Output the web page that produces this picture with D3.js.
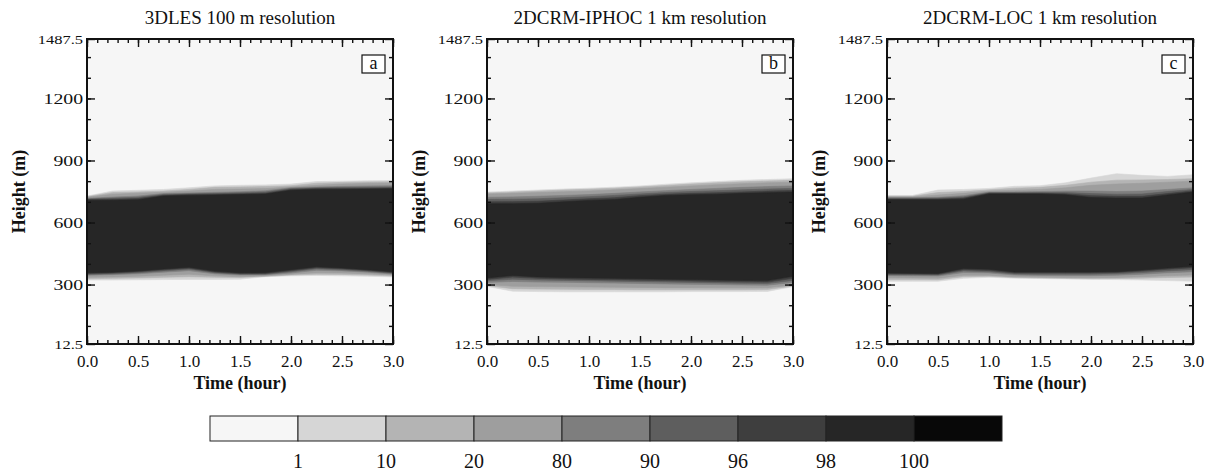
<!DOCTYPE html>
<html>
<head>
<meta charset="utf-8">
<script src="https://cdn.jsdelivr.net/npm/d3@7"></script>
<style>
  body { margin: 0; background: #fff; }
  svg text { font-family: "Liberation Serif", "DejaVu Serif", serif; fill: #111; }
</style>
</head>
<body>
<div id="fig"></div>
<script>
// horas de simulacion
const times = [0, 0.25, 0.5, 0.75, 1.0, 1.25, 1.5, 1.75, 2.0, 2.25, 2.5, 2.75, 3.0]

// niveles de fraccion de nubes (%) y colores de la barra
const levels = [1, 10, 20, 80, 90, 96, 98, 100]
const levelColors = ["#f6f6f6", "#d6d6d6", "#b4b4b4", "#9e9e9e", "#7e7e7e", "#5e5e5e", "#3e3e3e", "#262626", "#080808"]

const yTicks = [12.5, 300, 600, 900, 1200, 1487.5]
const xTicks = [0, 0.5, 1.0, 1.5, 2.0, 2.5, 3.0]

const titles = ["3DLES 100 m resolution", "2DCRM-IPHOC 1 km resolution", "2DCRM-LOC 1 km resolution"]
const letters = ["a", "b", "c"]

// limite superior (m) de cada nivel: 1,10,20,80,90,96,98
const topA = [
  [728, 752, 756, 760, 768, 777, 780, 782, 786, 798, 800, 802, 803],
  [725, 745, 748, 752, 760, 770, 772, 774, 778, 790, 794, 796, 797],
  [722, 737, 742, 746, 752, 760, 762, 764, 772, 780, 786, 789, 790],
  [717, 723, 728, 740, 743, 746, 749, 754, 768, 772, 775, 777, 778],
  [714, 718, 722, 736, 739, 741, 744, 748, 764, 768, 770, 771, 772],
  [711, 713, 716, 732, 735, 737, 739, 742, 760, 764, 765, 766, 767],
  [707, 708, 710, 728, 731, 733, 735, 738, 756, 760, 761, 762, 763]
]
// limite inferior (m) de cada nivel
const botA = [
  [322, 322, 323, 324, 325, 325, 326, 338, 342, 344, 342, 340, 337],
  [328, 330, 332, 335, 338, 335, 334, 340, 346, 350, 349, 346, 342],
  [335, 337, 340, 345, 350, 342, 338, 342, 350, 357, 356, 352, 346],
  [345, 348, 352, 360, 367, 352, 346, 347, 356, 369, 366, 360, 351],
  [349, 352, 357, 366, 374, 357, 350, 350, 362, 376, 371, 364, 355],
  [353, 356, 362, 371, 379, 361, 353, 354, 367, 381, 376, 368, 358],
  [357, 360, 366, 375, 384, 365, 357, 358, 372, 386, 380, 372, 362]
]

const topB = [
  [747, 752, 757, 762, 766, 771, 777, 785, 792, 798, 804, 808, 812],
  [743, 747, 752, 757, 761, 766, 772, 779, 786, 792, 797, 801, 804],
  [738, 741, 745, 749, 753, 758, 764, 771, 777, 783, 788, 792, 795],
  [722, 724, 727, 731, 735, 741, 748, 754, 760, 765, 770, 774, 777],
  [712, 713, 715, 720, 725, 731, 738, 745, 750, 754, 758, 762, 765],
  [700, 701, 703, 709, 715, 720, 730, 737, 741, 744, 748, 752, 755],
  [691, 691, 693, 700, 707, 711, 722, 731, 734, 737, 741, 744, 747]
]
const botB = [
  [291, 268, 266, 265, 265, 265, 265, 265, 266, 266, 266, 267, 290],
  [295, 280, 278, 277, 276, 276, 275, 275, 275, 275, 275, 276, 293],
  [300, 292, 290, 289, 288, 287, 286, 285, 285, 284, 284, 285, 298],
  [310, 315, 312, 311, 309, 307, 305, 303, 301, 300, 298, 297, 310],
  [318, 326, 322, 320, 318, 316, 314, 312, 310, 308, 306, 305, 320],
  [325, 336, 330, 327, 325, 323, 321, 319, 317, 315, 313, 312, 330],
  [332, 344, 337, 334, 332, 330, 328, 326, 324, 322, 320, 319, 340]
]

const topC = [
  [731, 731, 757, 760, 765, 775, 778, 792, 815, 836, 828, 823, 831],
  [727, 727, 745, 750, 758, 766, 770, 780, 795, 805, 806, 808, 812],
  [724, 724, 733, 741, 752, 756, 760, 768, 780, 786, 790, 795, 800],
  [720, 720, 722, 730, 747, 748, 750, 752, 752, 750, 752, 760, 768],
  [717, 717, 718, 724, 744, 744, 745, 745, 740, 737, 738, 750, 760],
  [713, 713, 714, 718, 741, 741, 741, 739, 730, 727, 727, 740, 753],
  [710, 710, 710, 713, 738, 738, 738, 734, 721, 718, 718, 733, 747]
]
const botC = [
  [316, 316, 316, 330, 335, 331, 329, 327, 325, 324, 322, 319, 316],
  [324, 324, 323, 338, 340, 334, 332, 330, 329, 329, 331, 334, 336],
  [333, 332, 331, 345, 345, 338, 336, 334, 333, 334, 338, 343, 346],
  [343, 342, 341, 358, 356, 346, 344, 343, 343, 345, 350, 357, 362],
  [348, 347, 346, 366, 362, 351, 350, 350, 350, 352, 358, 366, 372],
  [352, 351, 350, 372, 368, 356, 356, 356, 356, 358, 365, 374, 381],
  [356, 355, 354, 378, 374, 361, 361, 361, 361, 362, 370, 380, 388]
]

const paneles = [
  { top: topA, bot: botA },
  { top: topB, bot: botB },
  { top: topC, bot: botC }
]

const anchoTotal = 1214
const altoTotal = 471
const panelX = [87, 487, 887]
const panelY = 39
const ancho = 306
const alto = 305

const svg = d3.select("#fig")
  .append("svg")
  .attr("width", anchoTotal)
  .attr("height", altoTotal)

const x = d3.scaleLinear().domain([0, 3]).range([0, ancho])
const y = d3.scaleLinear().domain([12.5, 1487.5]).range([alto, 0])

const minorX = d3.range(0, 3.001, 0.1).map(d => +d.toFixed(1))
const minorY = d3.range(100, 1487, 100)

paneles.forEach((p, k) => {
  const g = svg.append("g")
    .attr("transform", `translate(${panelX[k]}, ${panelY})`)

  g.append("clipPath").attr("id", "clip" + k)
    .append("rect").attr("width", ancho).attr("height", alto)

  g.append("rect")
    .attr("width", ancho).attr("height", alto)
    .attr("fill", levelColors[0])

  const area = d3.area()
    .x((d, i) => x(times[i]))
    .y0(d => y(d[0]))
    .y1(d => y(d[1]))

  const bandas = g.append("g").attr("clip-path", `url(#clip${k})`)
  p.top.forEach((tops, i) => {
    const pares = tops.map((t, j) => [p.bot[i][j], t])
    bandas.append("path")
      .attr("d", area(pares))
      .attr("fill", levelColors[i + 1])
      .attr("stroke", levelColors[i + 1])
      .attr("stroke-width", 0.6)
  })

  // ejes con marcas hacia dentro
  const ejeX = g.append("g").attr("transform", `translate(0, ${alto})`)
    .call(d3.axisBottom(x).tickValues(xTicks).tickSize(-8).tickPadding(11).tickFormat(d3.format(".1f")))
  g.append("g").attr("transform", `translate(0, ${alto})`)
    .call(d3.axisBottom(x).tickValues(minorX).tickSize(-4).tickFormat(""))
  g.append("g").call(d3.axisTop(x).tickValues(xTicks).tickSize(-8).tickFormat(""))
  g.append("g").call(d3.axisTop(x).tickValues(minorX).tickSize(-4).tickFormat(""))

  const ejeY = g.append("g")
    .call(d3.axisLeft(y).tickValues(yTicks).tickSize(-8).tickPadding(3).tickFormat(d => d))
  g.append("g").call(d3.axisLeft(y).tickValues(minorY).tickSize(-4).tickFormat(""))
  g.append("g").attr("transform", `translate(${ancho}, 0)`)
    .call(d3.axisRight(y).tickValues(yTicks).tickSize(-8).tickFormat(""))
  g.append("g").attr("transform", `translate(${ancho}, 0)`)
    .call(d3.axisRight(y).tickValues(minorY).tickSize(-4).tickFormat(""))

  g.selectAll(".domain").remove()
  g.selectAll(".tick line").attr("stroke", "#111").attr("stroke-width", 1.4)
  ejeX.selectAll("text")
    .style("font-size", "17px").style("font-family", "Liberation Serif").style("fill", "#111")
  ejeY.selectAll("text")
    .style("font-size", "15px").style("font-family", "Liberation Serif").style("fill", "#111")
    .attr("transform", "scale(1.32,1)")
  ejeY.selectAll(".tick").filter(d => d === 12.5 || d === 1487.5)
    .select("text").style("font-size", "12.5px")

  g.append("rect")
    .attr("width", ancho).attr("height", alto)
    .attr("fill", "none").attr("stroke", "#111").attr("stroke-width", 2)

  // titulo y rotulos
  g.append("text")
    .attr("x", ancho / 2).attr("y", -15)
    .attr("text-anchor", "middle")
    .style("font-size", "19px")
    .text(titles[k])

  g.append("text")
    .attr("x", ancho / 2).attr("y", alto + 45)
    .attr("text-anchor", "middle")
    .style("font-size", "18px").style("font-weight", "bold")
    .text("Time (hour)")

  g.append("text")
    .attr("transform", `translate(${-62}, ${alto / 2}) rotate(-90)`)
    .attr("text-anchor", "middle")
    .style("font-size", "18px").style("font-weight", "bold")
    .text("Height (m)")

  g.append("rect")
    .attr("x", ancho - 31).attr("y", 16)
    .attr("width", 23).attr("height", 18)
    .attr("fill", "#fff").attr("stroke", "#111").attr("stroke-width", 1.2)
  g.append("text")
    .attr("x", ancho - 19.5).attr("y", 30)
    .attr("text-anchor", "middle")
    .style("font-size", "18px")
    .text(letters[k])
})

// barra de colores
const barX = d3.scaleBand().domain(d3.range(levelColors.length)).range([210, 1002])
const gBar = svg.append("g").attr("transform", "translate(0, 416)")
gBar.selectAll("rect")
  .data(levelColors)
  .enter()
  .append("rect")
  .attr("x", (d, i) => barX(i))
  .attr("width", barX.bandwidth())
  .attr("height", 25)
  .attr("fill", d => d)
  .attr("stroke", "#222")
  .attr("stroke-width", 1)

gBar.selectAll("text")
  .data(levels)
  .enter()
  .append("text")
  .attr("x", (d, i) => barX(i + 1))
  .attr("y", 52)
  .attr("text-anchor", "middle")
  .style("font-size", "20px")
  .text(d => d)
</script>
</body>
</html>
